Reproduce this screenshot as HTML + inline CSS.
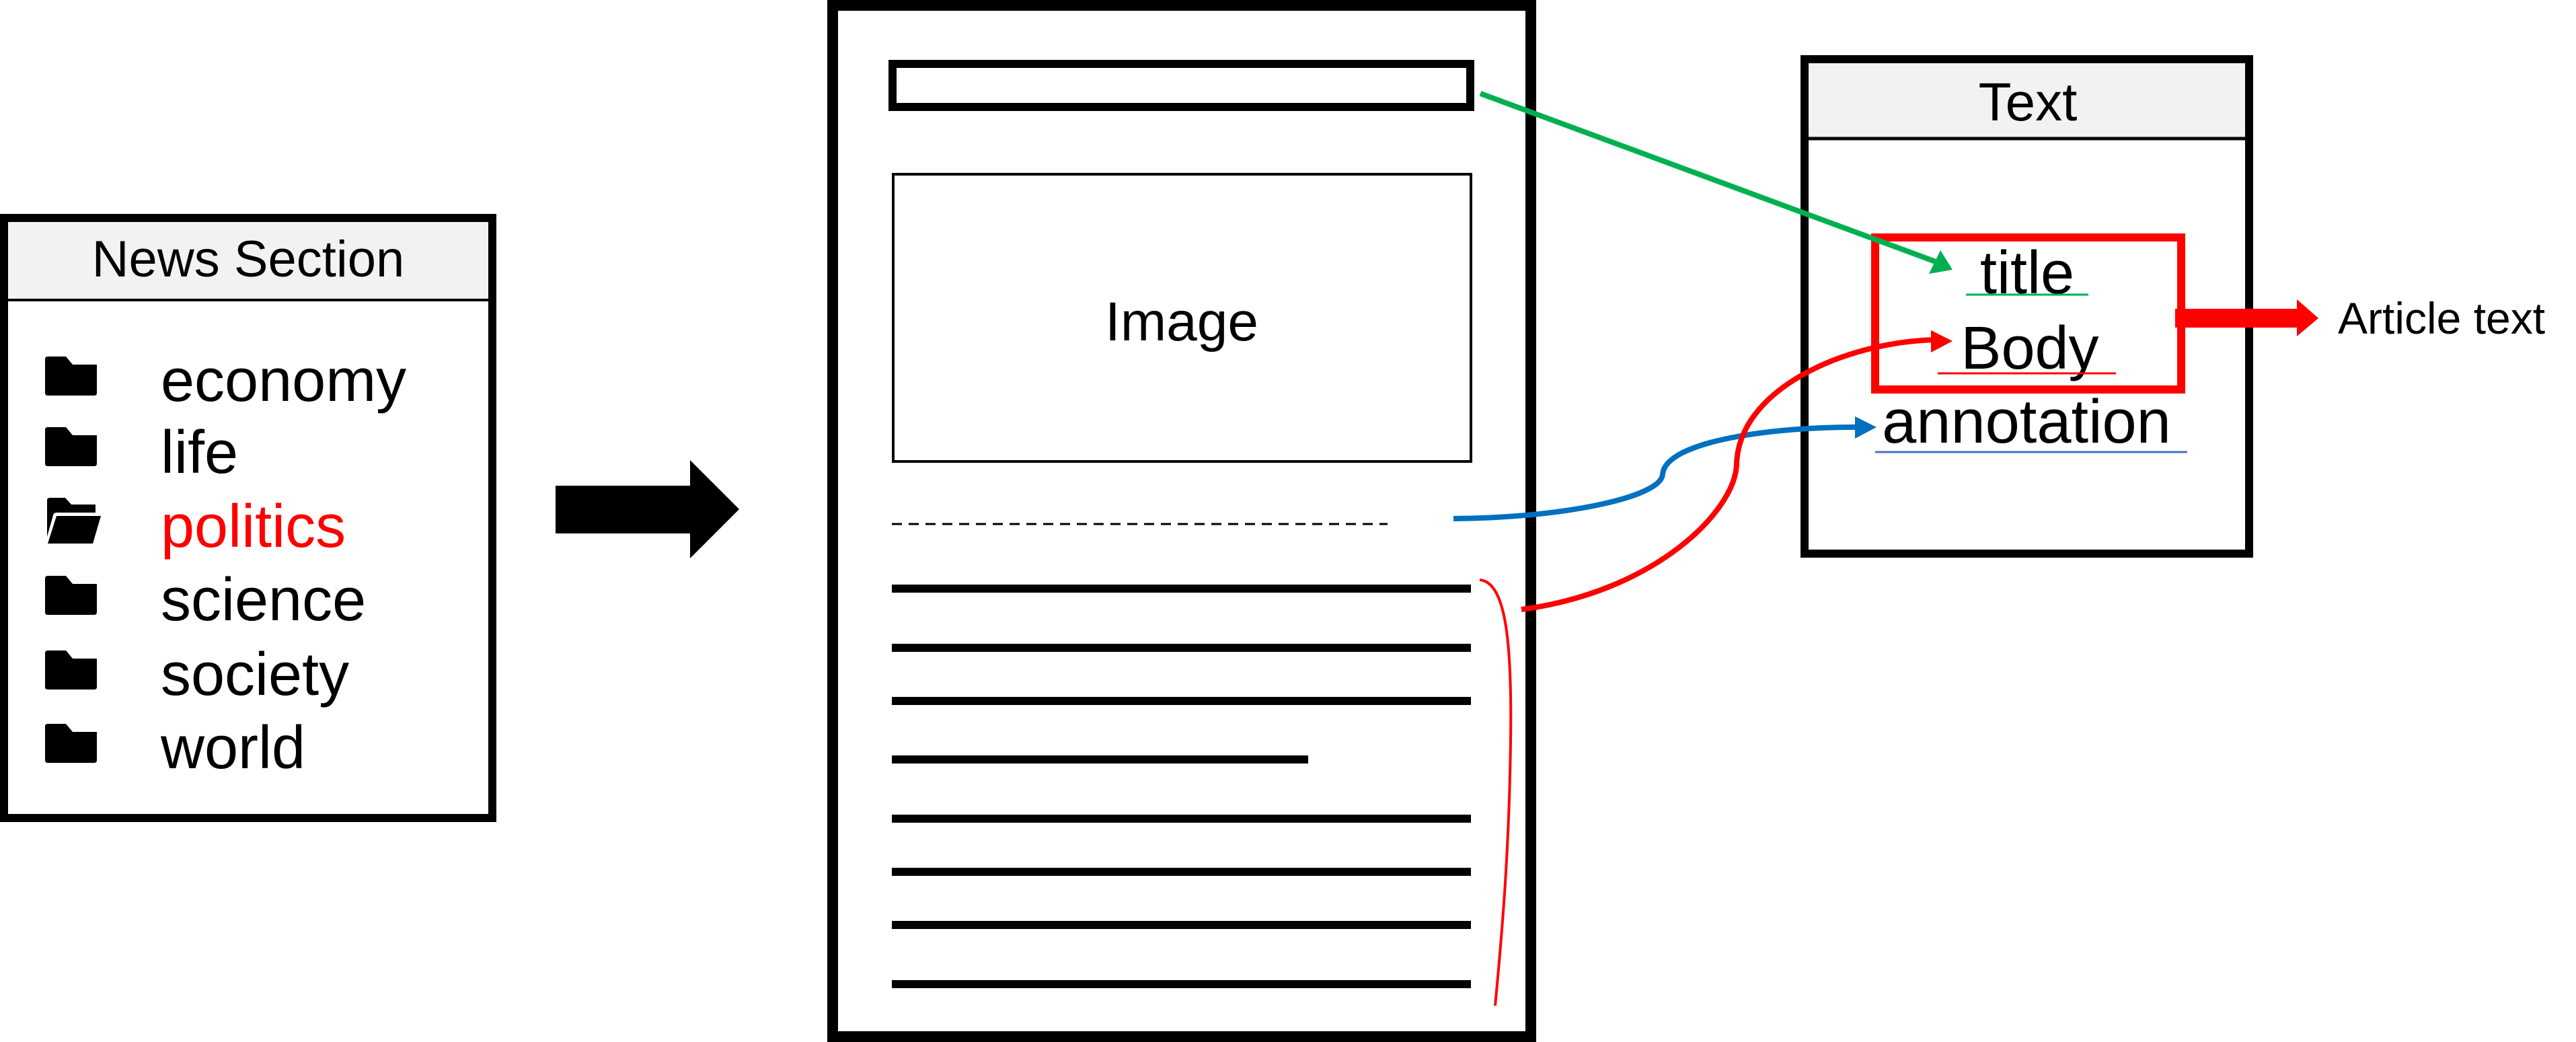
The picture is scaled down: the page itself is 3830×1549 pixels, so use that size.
<!DOCTYPE html>
<html><head><meta charset="utf-8"><style>
html,body{margin:0;padding:0;background:#fff;}
svg{display:block;}
text{font-family:"Liberation Sans",sans-serif;}
</style></head><body>
<svg width="3830" height="1549" viewBox="0 0 3830 1549" xmlns="http://www.w3.org/2000/svg">
<!-- News Section box -->
<rect x="6" y="324" width="726" height="892" fill="#fff" stroke="#000" stroke-width="12"/>
<rect x="12" y="330" width="714" height="114" fill="#f2f2f2"/>
<line x1="12" y1="446" x2="726" y2="446" stroke="#000" stroke-width="4"/>
<text x="369" y="411" font-size="76" text-anchor="middle">News Section</text>
<g fill="#000">
<path d="M67,538 L67,584 Q67,588 71,588 L140,588 Q144,588 144,584 L144,542 L108,542 L98,530 L71,530 Q67,530 67,534 Z"/>
<path d="M67,643 L67,689 Q67,693 71,693 L140,693 Q144,693 144,689 L144,647 L108,647 L98,635 L71,635 Q67,635 67,639 Z"/>
<path d="M70,758 L70,798 L79,766 Q80,762 84,762 L142,762 L142,750 L106,750 L97,740 L74,740 Q70,740 70,744 Z"/>
<path d="M84,767 L150,767 L138,808 L71,808 Z"/>
<path d="M67,864 L67,910 Q67,914 71,914 L140,914 Q144,914 144,910 L144,868 L108,868 L98,856 L71,856 Q67,856 67,860 Z"/>
<path d="M67,975 L67,1021 Q67,1025 71,1025 L140,1025 Q144,1025 144,1021 L144,979 L108,979 L98,967 L71,967 Q67,967 67,971 Z"/>
<path d="M67,1084 L67,1130 Q67,1134 71,1134 L140,1134 Q144,1134 144,1130 L144,1088 L108,1088 L98,1076 L71,1076 Q67,1076 67,1080 Z"/>
</g>
<g font-size="90">
<text x="239" y="596">economy</text>
<text x="239" y="703">life</text>
<text x="239" y="813" fill="#ff0000">politics</text>
<text x="239" y="922">science</text>
<text x="239" y="1033">society</text>
<text x="239" y="1142">world</text>
</g>
<!-- big arrow -->
<polygon points="826,722 1026,722 1026,684 1099,757 1026,830 1026,793 826,793" fill="#000"/>
<!-- Page -->
<rect x="1238" y="8" width="1038" height="1533" fill="#fff" stroke="#000" stroke-width="16"/>
<rect x="1327" y="95" width="859" height="64" fill="none" stroke="#000" stroke-width="12"/>
<rect x="1328" y="259" width="859" height="427" fill="none" stroke="#000" stroke-width="4"/>
<text x="1757" y="506" font-size="82" text-anchor="middle">Image</text>
<line x1="1326" y1="779" x2="2063" y2="779" stroke="#000" stroke-width="3" stroke-dasharray="15,10"/>
<g stroke="#000" stroke-width="12">
<line x1="1326" y1="875" x2="2187" y2="875"/>
<line x1="1326" y1="963" x2="2187" y2="963"/>
<line x1="1326" y1="1042" x2="2187" y2="1042"/>
<line x1="1326" y1="1129" x2="1945" y2="1129"/>
<line x1="1326" y1="1217" x2="2187" y2="1217"/>
<line x1="1326" y1="1296" x2="2187" y2="1296"/>
<line x1="1326" y1="1375" x2="2187" y2="1375"/>
<line x1="1326" y1="1463" x2="2187" y2="1463"/>
</g>
<!-- thin red bracket -->
<path d="M2200,862 C2240,865 2248,960 2246,1100 C2244,1260 2234,1380 2223,1495" fill="none" stroke="#ff0000" stroke-width="4"/>
<!-- Text box -->
<rect x="2683" y="88" width="661" height="735" fill="#fff" stroke="#000" stroke-width="12"/>
<rect x="2689" y="94" width="649" height="110" fill="#f2f2f2"/>
<line x1="2689" y1="206" x2="3338" y2="206" stroke="#000" stroke-width="5"/>
<text x="3015" y="179" font-size="80" text-anchor="middle">Text</text>
<!-- red box -->
<rect x="2788" y="353" width="455" height="226" fill="none" stroke="#ff0000" stroke-width="12"/>
<text x="3014" y="436" font-size="90" text-anchor="middle">title</text>
<line x1="2923" y1="438" x2="3105" y2="438" stroke="#00b050" stroke-width="3"/>
<text x="3018" y="548" font-size="90" text-anchor="middle">Body</text>
<line x1="2881" y1="555" x2="3146" y2="555" stroke="#ff0000" stroke-width="3"/>
<text x="3013" y="658" font-size="92" text-anchor="middle">annotation</text>
<line x1="2788" y1="672" x2="3252" y2="672" stroke="#4472c4" stroke-width="3"/>
<!-- red output arrow -->
<polygon points="3234,459 3415,459 3415,445 3447,473 3415,500 3415,487 3234,487" fill="#ff0000"/>
<text x="3476" y="496" font-size="66">Article text</text>
<!-- connectors -->
<line x1="2201" y1="139" x2="2878" y2="389" stroke="#00b050" stroke-width="8"/>
<polygon points="2903,401 2868,407 2885,372" fill="#00b050"/>
<path d="M2161,771 C2320,770 2470,740 2472,705 C2476,655 2640,634 2765,635" fill="none" stroke="#0070c0" stroke-width="8"/>
<polygon points="2790,635 2758,619 2758,652" fill="#0070c0"/>
<path d="M2262,906 C2460,880 2580,760 2582,690 C2585,580 2740,508 2880,505" fill="none" stroke="#ff0000" stroke-width="8"/>
<polygon points="2903,507 2871,491 2871,524" fill="#ff0000"/>
</svg>
</body></html>
